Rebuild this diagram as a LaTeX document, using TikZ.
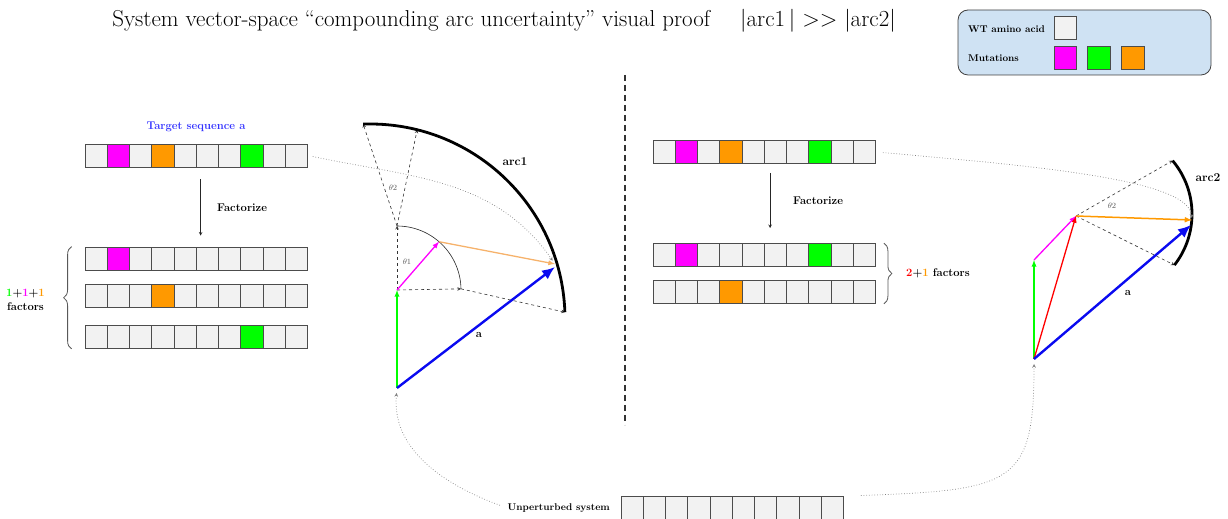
\documentclass[tikz,border=0pt]{standalone}
\usepackage{amsmath}
\usepackage{tikz}
\usetikzlibrary{decorations.pathreplacing, arrows.meta}

\definecolor{wtgray}{HTML}{F2F2F2}
\definecolor{mutmag}{HTML}{FF00FF}
\definecolor{mutgrn}{HTML}{00FF00}
\definecolor{mutorg}{HTML}{FF9900}
\definecolor{legblue}{HTML}{CFE2F3}
\definecolor{tgtblue}{HTML}{3333FF}
\definecolor{peach}{HTML}{F6B26B}
\definecolor{vecblue}{HTML}{0A0AF0}

% one row of 10 residues: name, left x, centre y, fill colours
\newcommand{\seqbar}[4]{%
  \foreach \col [count=\i] in {#4} {
    \node[cellBox, fill=\col] (#1-\i) at ({#2+(\i-0.5)*22.25}, #3) {};
  }%
}

\begin{document}
\begin{tikzpicture}[
    x=1pt, y=1pt,
    % --- CELDAS Y ETIQUETAS ---
    cellBox/.style={rectangle, draw=black!70, line width=0.8pt, minimum width=22.25pt, minimum height=23pt, inner sep=0pt},
    lblSmall/.style={font=\fontsize{9.8}{11}\selectfont\bfseries, inner sep=0pt},
    lblMid/.style={font=\fontsize{11.2}{13}\selectfont\bfseries, inner sep=0pt},
    arcLbl/.style={font=\fontsize{12}{14}\selectfont\bfseries, inner sep=0pt},
    thetaLbl/.style={font=\fontsize{8}{10}\selectfont, text=black!65, inner sep=0pt},
    % --- FLECHAS ---
    factArrow/.style={->, >=stealth, draw=black!85, line width=0.6pt},
    braceL/.style={decorate, decoration={brace, amplitude=8pt}, draw=black!65, line width=0.8pt},
    radDash/.style={->, >=stealth, dashed, draw=black!80, line width=0.6pt},
    arcThin/.style={draw=black!85, line width=0.6pt},
    arcThick/.style={draw=black, line width=2.8pt},
    vecGreen/.style={->, >=latex, draw=mutgrn, line width=1.3pt},
    vecMag/.style={->, >=latex, draw=mutmag, line width=1.3pt},
    vecPeach/.style={->, >=latex, draw=peach, line width=1.3pt},
    vecOrange/.style={->, >=latex, draw=mutorg, line width=1.5pt},
    vecRed/.style={->, >=latex, draw=red, line width=1.3pt},
    vecBlue/.style={-{Latex[length=13pt, width=11pt]}, draw=vecblue, line width=2.4pt},
    linkDot/.style={->, >=stealth, dotted, draw=black!50, line width=0.7pt},
    sepDash/.style={draw=black!80, line width=1.8pt, dash pattern=on 6pt off 4pt}
]
    \useasboundingbox (0,0) rectangle (1228,519);

    % --- TITULO ---
    \node (title) at (504,498) {\fontsize{23}{27}\selectfont System vector-space \textquotedblleft compounding arc uncertainty\textquotedblright\ visual proof\quad\ |arc1\,|\ \textgreater{}\textgreater\ |arc2|};

    % --- LEYENDA ---
    \node[draw=black!75, fill=legblue, rounded corners=10pt, line width=0.8pt, minimum width=253pt, minimum height=65pt] (legend) at (1084.5,476.5) {};
    \node[lblSmall, anchor=west] (wtLbl) at (968,490) {WT amino acid};
    \node[lblSmall, anchor=west] (mutLbl) at (968,461) {Mutations};
    \node[cellBox, fill=wtgray] (legWT) at (1065.5,491) {};
    \node[cellBox, fill=mutmag] (legMag) at (1065.5,461.5) {};
    \node[cellBox, fill=mutgrn] (legGrn) at (1099,461.5) {};
    \node[cellBox, fill=mutorg] (legOrg) at (1133,461.5) {};

    % --- LADO IZQUIERDO: SECUENCIAS ---
    \node[lblMid, text=tgtblue] (tgtLbl) at (196,392) {Target sequence a};
    \seqbar{seqA}{85}{363.5}{wtgray,mutmag,wtgray,mutorg,wtgray,wtgray,wtgray,mutgrn,wtgray,wtgray}
    \seqbar{rowA1}{85}{260.5}{wtgray,mutmag,wtgray,wtgray,wtgray,wtgray,wtgray,wtgray,wtgray,wtgray}
    \seqbar{rowA2}{85}{223.5}{wtgray,wtgray,wtgray,mutorg,wtgray,wtgray,wtgray,wtgray,wtgray,wtgray}
    \seqbar{rowA3}{85}{182}{wtgray,wtgray,wtgray,wtgray,wtgray,wtgray,wtgray,mutgrn,wtgray,wtgray}
    \draw[factArrow, shorten <=12pt, shorten >=11pt] ([xshift=4pt]seqA-5.south east) -- ([xshift=4pt]rowA1-5.north east);
    \node[lblMid, anchor=west] (factLblA) at (217,311) {Factorize};
    \draw[braceL] ([xshift=-13pt]rowA3-1.south west) -- ([xshift=-13pt]rowA1-1.north west);
    \node[lblMid, align=center] (factA) at (25.5,219.5) {\textcolor{mutgrn}{1}+\textcolor{mutmag}{1}+\textcolor{mutorg}{1}\\[1pt] factors};

    % --- LADO IZQUIERDO: VECTORES ---
    \coordinate (O1) at (397,131);
    \coordinate (G1) at (397,229);
    \path (G1) ++(49:64) coordinate (M1);
    \path (G1) ++(90:64) coordinate (P1);
    \path (G1) ++(1:64) coordinate (E1);
    \coordinate (K1) at (370,200);
    \path (K1) ++(92:195) coordinate (A1);
    \path (K1) ++(76:195) coordinate (D1);
    \path (K1) ++(2:195) coordinate (C1);
    \coordinate (T1) at (555,255);
    \coordinate (B1) at (555,252);

    \draw[radDash] (G1) -- (P1);
    \draw[radDash] (G1) -- (E1);
    \draw[radDash] (P1) -- (A1);
    \draw[radDash] (P1) -- (D1);
    \draw[radDash] (E1) -- (C1);
    \draw[arcThin] (P1) arc[start angle=90, end angle=1, radius=64pt];
    \draw[arcThick] (A1) arc[start angle=92, end angle=2, radius=195pt];

    \draw[vecGreen] (O1) -- (G1);
    \draw[vecMag] (G1) -- (M1);
    \draw[vecPeach] (M1) -- (T1);
    \draw[vecBlue] (O1) -- (B1);

    \node[thetaLbl] (th1) at (407,257) {$\theta$1};
    \node[thetaLbl] (th2A) at (393,331) {$\theta$2};
    \node[arcLbl] (arcA) at (515,357) {arc1};
    \node[lblMid] (aA) at (479,184) {a};

    % --- SEPARADOR ---
    \coordinate (sepTop) at (625,444);
    \coordinate (sepBot) at (625,94);
    \draw[sepDash] (sepTop) -- (sepBot);

    % --- LADO DERECHO: SECUENCIAS ---
    \seqbar{seqB}{653}{367}{wtgray,mutmag,wtgray,mutorg,wtgray,wtgray,wtgray,mutgrn,wtgray,wtgray}
    \seqbar{rowB1}{653}{264}{wtgray,mutmag,wtgray,wtgray,wtgray,wtgray,wtgray,mutgrn,wtgray,wtgray}
    \seqbar{rowB2}{653}{227}{wtgray,wtgray,wtgray,mutorg,wtgray,wtgray,wtgray,wtgray,wtgray,wtgray}
    \draw[factArrow, shorten <=9pt, shorten >=15pt] ([xshift=5.5pt]seqB-5.south east) -- ([xshift=5.5pt]rowB1-5.north east);
    \node[lblMid, anchor=west] (factLblB) at (793,318) {Factorize};
    \draw[braceL] ([xshift=8pt]rowB1-10.north east) -- ([xshift=8pt]rowB2-10.south east);
    \node[lblMid, anchor=west] (factB) at (906,246) {\textcolor{red}{2}+\textcolor{mutorg}{1} factors};

    % --- LADO DERECHO: VECTORES ---
    \coordinate (O2) at (1034,160);
    \coordinate (G2) at (1034,259);
    \coordinate (Q2) at (1076,303);
    \coordinate (K2) at (1109,305);
    \path (K2) ++(40:83) coordinate (A2);
    \path (K2) ++(-38:83) coordinate (C2);
    \coordinate (T2) at (1192,299);
    \coordinate (B2) at (1191,294);

    \draw[radDash] (Q2) -- (A2);
    \draw[radDash] (Q2) -- (C2);
    \draw[arcThick] (A2) arc[start angle=40, end angle=-38, radius=83pt];

    \draw[vecGreen] (O2) -- (G2);
    \draw[vecMag] (G2) -- (Q2);
    \draw[vecRed] (O2) -- (Q2);
    \draw[vecOrange] (Q2) -- (T2);
    \draw[vecBlue] (O2) -- (B2);

    \node[thetaLbl] (th2B) at (1112,313) {$\theta$2};
    \node[arcLbl] (arcB) at (1208,341) {arc2};
    \node[lblMid] (aB) at (1128,226) {a};

    % --- SISTEMA SIN PERTURBAR ---
    \seqbar{seqU}{621}{11}{wtgray,wtgray,wtgray,wtgray,wtgray,wtgray,wtgray,wtgray,wtgray,wtgray}
    \node[lblSmall, anchor=east] (unpLbl) at (610,11) {Unperturbed system};

    % --- CONEXIONES PUNTEADAS ---
    \draw[linkDot, shorten <=5pt, shorten >=4pt] (seqA-10.east) to[out=-12, in=125] (T1);
    \draw[linkDot, shorten <=7pt, shorten >=2pt] (seqB-10.east) .. controls +(-5:170) and +(95:40) .. (T2);
    \draw[linkDot, shorten <=8pt, shorten >=5pt] (unpLbl.west) to[out=160, in=-95] (O1);
    \draw[linkDot, shorten <=17pt, shorten >=5pt] (seqU-10.north east) .. controls +(2:170) and +(-90:125) .. (O2);

\end{tikzpicture}
\end{document}
